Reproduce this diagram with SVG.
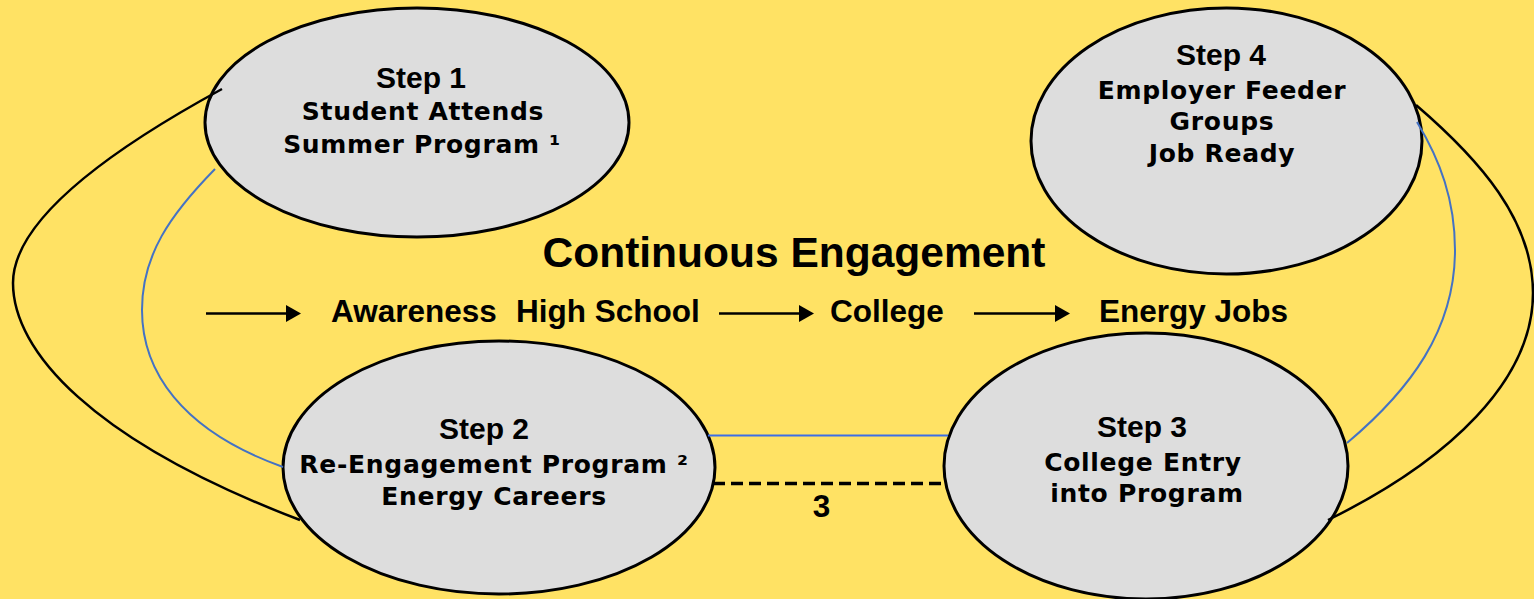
<svg xmlns="http://www.w3.org/2000/svg" width="1534" height="599" viewBox="0 0 1534 599">
  <style>
    .node { fill: #dddddd; stroke: #000; stroke-width: 3; }
    .title { font-family: "Liberation Sans", Arial, sans-serif; font-weight: bold; font-size: 30px; fill: #000; text-anchor: middle; }
    .body { font-family: "DejaVu Sans", Verdana, sans-serif; font-weight: bold; font-size: 25px; letter-spacing: 0.7px; fill: #000; text-anchor: middle; }
    .flow { font-family: "Liberation Sans", Arial, sans-serif; font-weight: bold; font-size: 31.5px; fill: #000; }
    .heading { font-family: "Liberation Sans", Arial, sans-serif; font-weight: bold; font-size: 42.5px; fill: #000; text-anchor: middle; }
    .loop { fill: none; stroke: #000; stroke-width: 2.5; }
    .link { fill: none; stroke: #4472c4; stroke-width: 2; }
    .arrow { stroke: #000; stroke-width: 2.5; marker-end: url(#head); }
  </style>
  <defs>
    <marker id="head" markerUnits="userSpaceOnUse" markerWidth="15" markerHeight="17" viewBox="0 0 15 17" refX="1" refY="8.5" orient="auto">
      <path d="M0,0 L15,8.5 L0,17 Z" fill="#000"/>
    </marker>
  </defs>

  <rect width="1534" height="599" fill="#ffe264"/>

  <g id="step1">
    <ellipse class="node" cx="417" cy="122.5" rx="212" ry="114.5"/>
    <text class="title" x="421" y="88">Step 1</text>
    <text class="body" x="423" y="120">Student Attends</text>
    <text class="body" x="422" y="153">Summer Program ¹</text>
  </g>

  <g id="step2">
    <ellipse class="node" cx="499" cy="467.5" rx="216" ry="126.5"/>
    <text class="title" x="484" y="439">Step 2</text>
    <text class="body" x="494" y="473">Re-Engagement Program ²</text>
    <text class="body" x="494" y="505">Energy Careers</text>
  </g>

  <g id="step3">
    <ellipse class="node" cx="1146" cy="466" rx="202" ry="133"/>
    <text class="title" x="1142" y="437">Step 3</text>
    <text class="body" x="1143" y="471">College Entry</text>
    <text class="body" x="1147" y="502">into Program</text>
  </g>

  <g id="step4">
    <ellipse class="node" cx="1226.5" cy="141" rx="195.5" ry="133"/>
    <text class="title" x="1221" y="65">Step 4</text>
    <text class="body" x="1222" y="99">Employer Feeder</text>
    <text class="body" x="1222" y="130">Groups</text>
    <text class="body" x="1222" y="162">Job Ready</text>
  </g>

  <g id="engagement">
    <text class="heading" x="794" y="267">Continuous Engagement</text>
    <text class="flow" x="331" y="322">Awareness</text>
    <text class="flow" x="516" y="322">High School</text>
    <text class="flow" x="830" y="322">College</text>
    <text class="flow" x="1099" y="322">Energy Jobs</text>
  </g>

  <g id="connectors">
    <!-- outer loops -->
    <path class="loop" d="M222,89 C110,150 13,220 13,283 C13,350 90,440 300,520"/>
    <path class="loop" d="M1416,105 C1480,160 1533,220 1533,293 C1533,380 1450,460 1328,520"/>
    <!-- inner links -->
    <path class="link" d="M215,169 C170,215 142,255 142,310 C142,370 180,430 283,467"/>
    <path class="link" d="M1417,122 C1440,160 1455,200 1455,250 C1455,330 1410,390 1347,443"/>
    <line x1="708" y1="435.5" x2="948" y2="435.5" stroke="#3c6ee6" stroke-width="2.2"/>
    <line x1="713" y1="483.5" x2="943" y2="483.5" stroke="#000" stroke-width="3.5" stroke-dasharray="12,6"/>
    <text class="flow" x="821.5" y="517" font-size="22" text-anchor="middle">3</text>
    <!-- progression arrows -->
    <line class="arrow" x1="206" y1="313.5" x2="287" y2="313.5"/>
    <line class="arrow" x1="719" y1="313.5" x2="800" y2="313.5"/>
    <line class="arrow" x1="974" y1="313.5" x2="1056" y2="313.5"/>
  </g>
</svg>
